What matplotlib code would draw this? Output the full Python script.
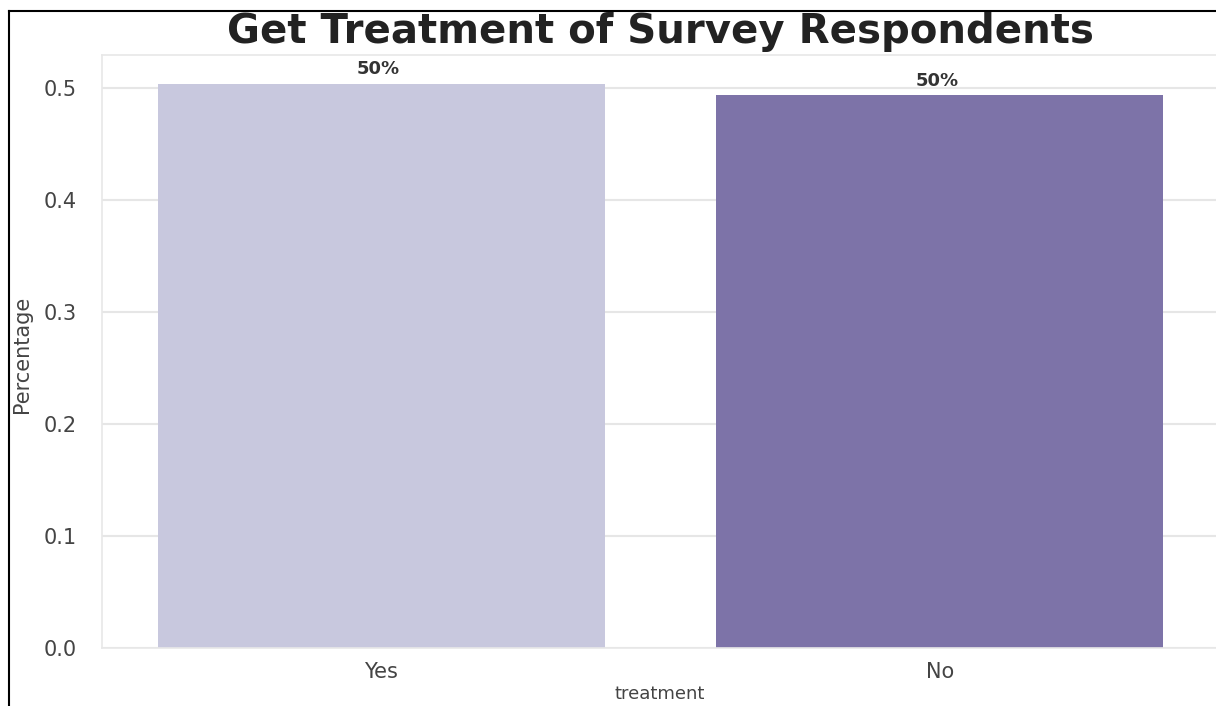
import matplotlib
matplotlib.use("Agg")
import matplotlib.pyplot as plt
from matplotlib.lines import Line2D

categories = ["Yes", "No"]
values = [0.5036, 0.4937]
bar_labels = ["50%", "50%"]
yticks = [0.0, 0.1, 0.2, 0.3, 0.4, 0.5]
colors = ["#c8c8de", "#7d73a8"]

fig = plt.figure(figsize=(12.16, 7.06), dpi=100)
fig.patch.set_facecolor("white")

# axes extends slightly past the right edge (cropped screenshot)
ax = fig.add_axes([102/1216, (706-648)/706, (1219-102)/1216, (648-55)/706])
ax.set_facecolor("white")

x = list(range(len(categories)))
bars = ax.bar(x, values, width=0.8, color=colors, zorder=2)
ax.set_xlim(-0.5, 1.5)
ax.set_ylim(0, 0.5295)
ax.set_yticks(yticks)
ax.set_yticklabels([f"{t:.1f}" for t in yticks])
ax.set_xticks(x)
ax.set_xticklabels(categories)
ax.tick_params(axis="both", length=0, colors="#444444", labelsize=15)
ax.tick_params(axis="y", pad=18)
ax.tick_params(axis="x", pad=10)
ax.grid(axis="y", color="#e6e6e6", linewidth=1.5, zorder=0)
ax.grid(axis="x", visible=False)
for s in ax.spines.values():
    s.set_color("#e8e8e8")
    s.set_linewidth(1.2)

for b, lab in zip(bars, bar_labels):
    ax.annotate(lab, (b.get_x() + b.get_width()/2, b.get_height()),
                xytext=(-2, 4), textcoords="offset points",
                ha="center", va="bottom", fontsize=13, fontweight="bold",
                color="#333333")

ax.set_ylabel("Percentage", fontsize=15, color="#444444")
ax.yaxis.set_label_coords(-70/1117, (648-354)/593)
ax.set_xlabel("treatment", fontsize=13, color="#444444")
ax.xaxis.set_label_coords((660-102)/1117, -(694-648)/593)
ax.xaxis.label.set_va("center")

fig.text(660/1216, 1 - 43/706, "Get Treatment of Survey Respondents",
         ha="center", va="baseline", fontsize=29, fontweight="bold", color="#222222")

# screenshot frame lines (top and left)
fig.add_artist(Line2D([9/1216, 1], [1 - 11/706, 1 - 11/706], transform=fig.transFigure,
                      color="black", linewidth=1.5))
fig.add_artist(Line2D([9/1216, 9/1216], [0, 1 - 11/706], transform=fig.transFigure,
                      color="black", linewidth=1.5))

fig.savefig("out.png", dpi=100, facecolor="white")
